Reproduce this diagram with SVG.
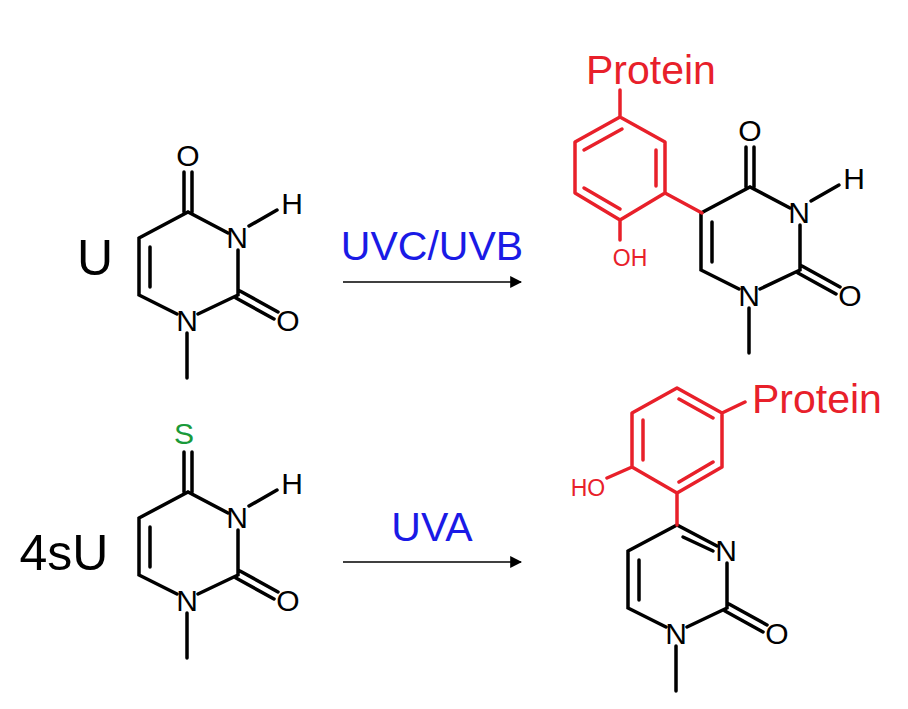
<svg xmlns="http://www.w3.org/2000/svg" width="908" height="709" viewBox="0 0 908 709">
<style>
.b{fill:none;stroke:#000;stroke-width:3.5;stroke-linecap:round}
.r{fill:none;stroke:#e8202a;stroke-width:3.5;stroke-linecap:round;stroke-linejoin:round}
.t{font-family:"Liberation Sans",Arial,sans-serif;font-size:30px;text-anchor:middle}
.big{font-family:"Liberation Sans",Arial,sans-serif;font-size:50px;text-anchor:middle}
.lbl{font-family:"Liberation Sans",Arial,sans-serif;font-size:41px;text-anchor:middle;fill:#1a1ae6}
.pr{font-family:"Liberation Sans",Arial,sans-serif;font-size:41px;fill:#e8202a}
.oh{font-family:"Liberation Sans",Arial,sans-serif;font-size:23px;fill:#e8202a;text-anchor:middle}
</style>
<defs>
<marker id="ah" viewBox="0 0 10 10" refX="9" refY="5" markerWidth="12" markerHeight="12" markerUnits="userSpaceOnUse" orient="auto"><path d="M0,0L10,5L0,10z" fill="#000"/></marker>
<g id="ring">
<path class="b" d="M139,238L188,212L228,233M238,250L238,295L198,314M177,314L139,295L139,238M150,247L150,287M187,333L187,378M236,298L274,319M240,291L278,312"/>
<text class="t" x="237" y="248">N</text>
<text class="t" x="187" y="331">N</text>
<text class="t" x="288" y="331">O</text>
</g>
<g id="nh">
<path class="b" d="M249,226L277,210"/>
<text class="t" x="292" y="214">H</text>
</g>
</defs>
<g id="uracil">
<use href="#ring"/><use href="#nh"/>
<path class="b" d="M184,212L184,172M192,212L192,172"/>
<text class="t" x="188" y="166">O</text>
<text class="big" x="95" y="275">U</text>
</g>
<g id="thiouracil" transform="translate(0,280)">
<use href="#ring"/><use href="#nh"/>
<path class="b" d="M184,212L184,172M192,212L192,172"/>
<text class="t" x="184" y="164" fill="#1a9a3a">S</text>
</g>
<text class="big" x="64" y="570">4sU</text>
<g id="product1">
<g transform="translate(562,-25)">
<use href="#ring"/><use href="#nh"/>
<path class="b" d="M184,212L184,172M192,212L192,172"/>
<text class="t" x="188" y="166">O</text>
</g>
<path class="r" d="M620,117L665,142L665,193L620,220L575,193L575,142Z M620,90L620,117 M620,220L620,240 M665,193L702,213 M622,129L584,150 M656,150L656,186 M620,209L584,188"/>
<text class="pr" x="586" y="84">Protein</text>
<text class="oh" x="630" y="266">OH</text>
</g>
<g id="product2">
<g transform="translate(489,313)">
<use href="#ring"/>
<path class="b" d="M194,224L224,238"/>
</g>
<path class="r" d="M677,493L632,467L632,413L677,388L722,413L722,467Z M677,525L677,493 M632,467L607,478 M722,413L745,402 M679,399L713,418 M643,420L643,460 M679,482L713,462"/>
<text class="pr" x="752" y="413">Protein</text>
<text class="oh" x="588" y="496">HO</text>
</g>
<g id="connectors">
<path d="M343,282L521,282" stroke="#000" stroke-width="1.5" marker-end="url(#ah)"/>
<path d="M343,562L521,562" stroke="#000" stroke-width="1.5" marker-end="url(#ah)"/>
<text class="lbl" x="432" y="260">UVC/UVB</text>
<text class="lbl" x="432" y="541">UVA</text>
</g>
</svg>
